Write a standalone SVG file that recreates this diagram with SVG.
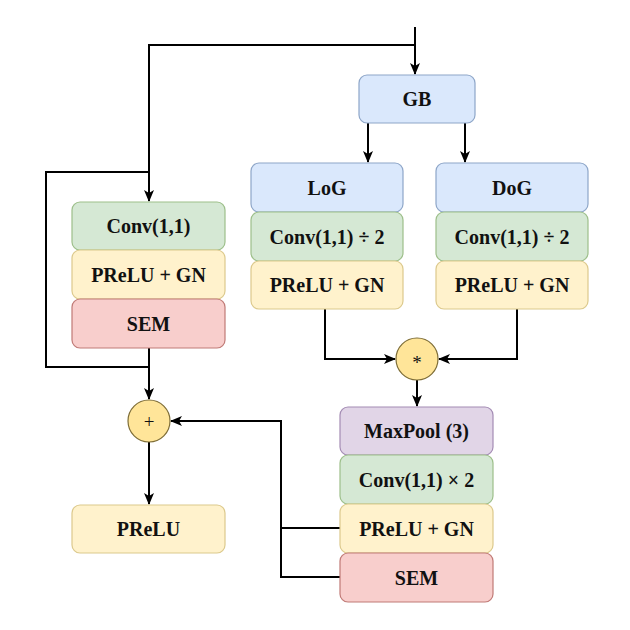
<svg xmlns="http://www.w3.org/2000/svg" width="630" height="630" viewBox="0 0 630 630">
<defs>
<marker id="arr" markerWidth="12" markerHeight="12" viewBox="0 0 12 12" refX="11" refY="6" orient="auto" markerUnits="userSpaceOnUse">
<path d="M0,1 L12,6 L0,11 L3,6 Z" fill="#000"/>
</marker>
<style>
.box{stroke-width:1.2}
.blue{fill:#dae8fc;stroke:#8ea6c8}
.green{fill:#d5e8d4;stroke:#9dbf8a}
.yellow{fill:#fff2cc;stroke:#dcc98c}
.red{fill:#f8cecc;stroke:#c07a76}
.purple{fill:#e1d5e7;stroke:#a48cb4}
.op{fill:#ffe599;stroke:#7d6c35;stroke-width:1.2}
.lbl{font-family:"Liberation Serif","Times New Roman",serif;font-weight:bold;font-size:20px;fill:#111;text-anchor:middle;dominant-baseline:central}
.sym{font-family:"Liberation Serif","Times New Roman",serif;font-size:19px;fill:#111;text-anchor:middle;dominant-baseline:central}
.wire{fill:none;stroke:#000;stroke-width:2}
</style>
</defs>
<rect width="630" height="630" fill="#fff"/>

<g id="connectors">
<path class="wire" d="M415,27 V74" marker-end="url(#arr)"/>
<path class="wire" d="M415,45 H149 V201" marker-end="url(#arr)"/>
<path class="wire" d="M149,172 H46 V367 H149"/>
<path class="wire" d="M149,348 V399" marker-end="url(#arr)"/>
<path class="wire" d="M368,123 V162" marker-end="url(#arr)"/>
<path class="wire" d="M465,123 V162" marker-end="url(#arr)"/>
<path class="wire" d="M325,309 V359 H395" marker-end="url(#arr)"/>
<path class="wire" d="M517,309 V359 H439" marker-end="url(#arr)"/>
<path class="wire" d="M417,380 V406" marker-end="url(#arr)"/>
<path class="wire" d="M340,528 H281"/>
<path class="wire" d="M340,577 H281 V421 H171" marker-end="url(#arr)"/>
<path class="wire" d="M149,442 V504" marker-end="url(#arr)"/>
</g>

<g id="gb"><rect class="box blue" x="359" y="75" width="116" height="48" rx="8"/><text class="lbl" x="417" y="99">GB</text></g>

<g id="log"><rect class="box blue" x="251" y="163" width="152" height="49" rx="8"/><text class="lbl" x="327" y="187.5">LoG</text></g>
<g id="log-conv"><rect class="box green" x="251" y="212" width="152" height="49" rx="8"/><text class="lbl" x="327" y="236.5">Conv(1,1) ÷ 2</text></g>
<g id="log-prelu"><rect class="box yellow" x="251" y="261" width="152" height="48" rx="8"/><text class="lbl" x="327" y="285">PReLU + GN</text></g>

<g id="dog"><rect class="box blue" x="436" y="163" width="152" height="49" rx="8"/><text class="lbl" x="512" y="187.5">DoG</text></g>
<g id="dog-conv"><rect class="box green" x="436" y="212" width="152" height="49" rx="8"/><text class="lbl" x="512" y="236.5">Conv(1,1) ÷ 2</text></g>
<g id="dog-prelu"><rect class="box yellow" x="436" y="261" width="152" height="48" rx="8"/><text class="lbl" x="512" y="285">PReLU + GN</text></g>

<g id="left-conv"><rect class="box green" x="72" y="202" width="153" height="48" rx="8"/><text class="lbl" x="148.5" y="226">Conv(1,1)</text></g>
<g id="left-prelu"><rect class="box yellow" x="72" y="250" width="153" height="49" rx="8"/><text class="lbl" x="148.5" y="274.5">PReLU + GN</text></g>
<g id="left-sem"><rect class="box red" x="72" y="299" width="153" height="49" rx="8"/><text class="lbl" x="148.5" y="323.5">SEM</text></g>

<g id="mul"><circle class="op" cx="417" cy="359" r="21"/><text class="sym" x="417" y="362">*</text></g>
<g id="add"><circle class="op" cx="149" cy="421" r="21"/><text class="sym" x="149" y="421">+</text></g>

<g id="maxpool"><rect class="box purple" x="340" y="407" width="153" height="48" rx="8"/><text class="lbl" x="416.5" y="431">MaxPool (3)</text></g>
<g id="conv2"><rect class="box green" x="340" y="455" width="153" height="49" rx="8"/><text class="lbl" x="416.5" y="479.5">Conv(1,1) × 2</text></g>
<g id="prelu2"><rect class="box yellow" x="340" y="504" width="153" height="49" rx="8"/><text class="lbl" x="416.5" y="528.5">PReLU + GN</text></g>
<g id="sem2"><rect class="box red" x="340" y="553" width="153" height="49" rx="8"/><text class="lbl" x="416.5" y="577.5">SEM</text></g>

<g id="prelu-out"><rect class="box yellow" x="72" y="505" width="153" height="48" rx="8"/><text class="lbl" x="148.5" y="529">PReLU</text></g>
</svg>
